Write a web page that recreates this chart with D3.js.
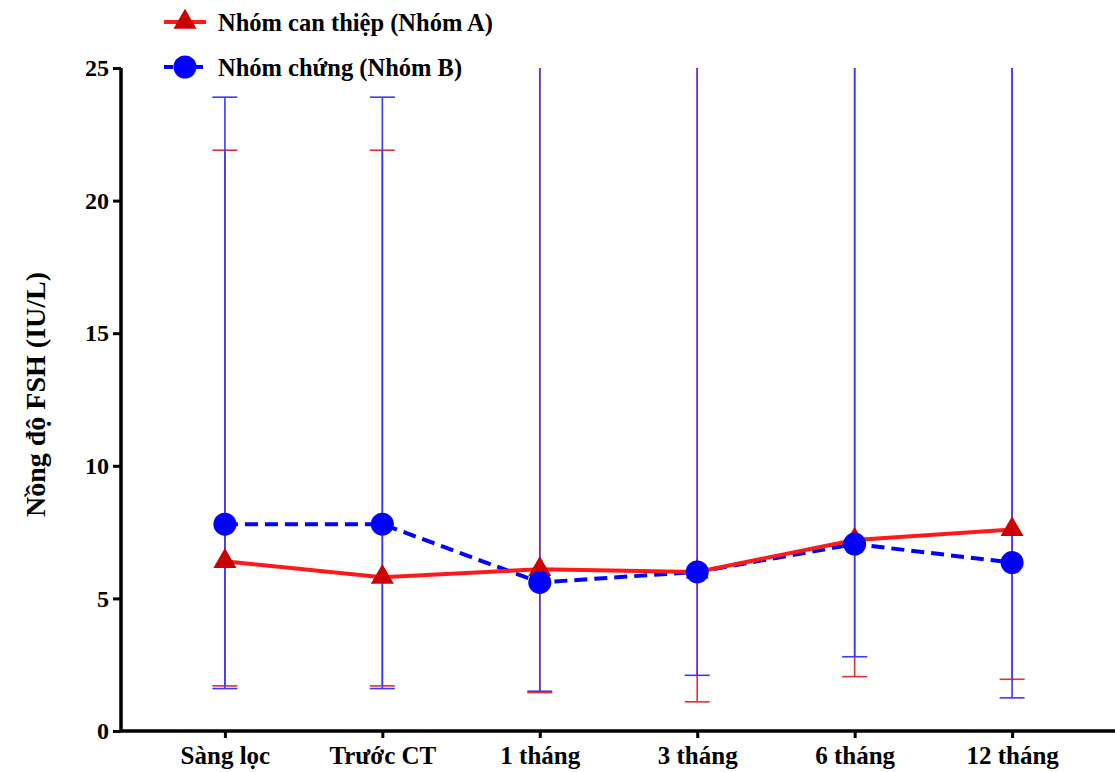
<!DOCTYPE html>
<html>
<head>
<meta charset="utf-8">
<script src="https://cdn.jsdelivr.net/npm/d3@7"></script>
<style>
  html, body { margin: 0; padding: 0; background: #fff; }
  svg text { font-family: "Liberation Serif", "Times New Roman", Tinos, "DejaVu Serif", serif; font-weight: bold; }
</style>
</head>
<body>
<svg id="chart" width="1115" height="772"></svg>
<script>
// Time points
const categories = ["Sàng lọc", "Trước CT", "1 tháng", "3 tháng", "6 tháng", "12 tháng"];

// Group A (intervention): mean FSH and whisker ends
const groupAName = "Nhóm can thiệp (Nhóm A)";
const groupAMean  = [6.4, 5.8, 6.1, 6.0, 7.2, 7.6];
const groupALower = [1.7, 1.7, 1.45, 1.1, 2.05, 1.95];
const groupAUpper = [21.9, 21.9, 30, 30, 30, 30];

// Group B (control)
const groupBName = "Nhóm chứng (Nhóm B)";
const groupBMean  = [7.8, 7.8, 5.6, 6.0, 7.05, 6.35];
const groupBLower = [1.6, 1.6, 1.5, 2.1, 2.8, 1.25];
const groupBUpper = [23.9, 23.9, 30, 30, 30, 30];

const yTicks = [0, 5, 10, 15, 20, 25];
const yTitle = "Nồng độ FSH (IU/L)";

const svg = d3.select("#chart");
const plot = { left: 121, right: 1116, top: 68, bottom: 731 };

const x = d3.scalePoint().domain(categories).range([plot.left, plot.right]).padding(0.66);
const y = d3.scaleLinear().domain([0, 25]).range([plot.bottom, plot.top]);

const redLine = "#ff1a1a", redMark = "#cc0000", redBar = "#e03030";
const blueLine = "#0000ff", blueBar = "#3a3aff";

svg.append("defs").append("clipPath").attr("id", "plotClip")
  .append("rect").attr("x", plot.left).attr("y", plot.top)
  .attr("width", plot.right - plot.left).attr("height", plot.bottom - plot.top);

const series = [
  { name: groupAName, mean: groupAMean, lo: groupALower, hi: groupAUpper, bar: redBar },
  { name: groupBName, mean: groupBMean, lo: groupBLower, hi: groupBUpper, bar: blueBar }
];

// Error bars
const capHalf = 12.5;
const bars = svg.append("g").attr("clip-path", "url(#plotClip)");
series.forEach(s => {
  const g = bars.append("g").attr("stroke", s.bar).attr("stroke-width", 1.6).attr("fill", "none");
  categories.forEach((c, i) => {
    const cx = x(c);
    g.append("line").attr("x1", cx).attr("x2", cx).attr("y1", y(s.lo[i])).attr("y2", y(s.hi[i]));
    g.append("line").attr("x1", cx - capHalf).attr("x2", cx + capHalf).attr("y1", y(s.lo[i])).attr("y2", y(s.lo[i]));
    g.append("line").attr("x1", cx - capHalf).attr("x2", cx + capHalf).attr("y1", y(s.hi[i])).attr("y2", y(s.hi[i]));
  });
});

// Mean lines
const line = d3.line().x((d, i) => x(categories[i])).y(d => y(d));
svg.append("path").datum(groupBMean).attr("d", line)
  .attr("fill", "none").attr("stroke", blueLine).attr("stroke-width", 4)
  .attr("stroke-dasharray", "13,7");
svg.append("path").datum(groupAMean).attr("d", line)
  .attr("fill", "none").attr("stroke", redLine).attr("stroke-width", 4);

// Markers
const tri = d3.symbol().type(d3.symbolTriangle).size(230);
svg.append("g").selectAll("path").data(groupAMean).join("path")
  .attr("d", tri)
  .attr("transform", (d, i) => `translate(${x(categories[i])},${y(d)})`)
  .attr("fill", redMark);
svg.append("g").selectAll("circle").data(groupBMean).join("circle")
  .attr("cx", (d, i) => x(categories[i])).attr("cy", d => y(d))
  .attr("r", 11.5).attr("fill", blueLine);

// Axes
const yAxis = svg.append("g").attr("transform", `translate(${plot.left},0)`)
  .call(d3.axisLeft(y).tickValues(yTicks).tickSize(8).tickPadding(4));
const xAxis = svg.append("g").attr("transform", `translate(0,${plot.bottom})`)
  .call(d3.axisBottom(x).tickSize(7).tickPadding(8));
[yAxis, xAxis].forEach(a => {
  a.attr("font-family", null).attr("font-size", null);
  a.select(".domain").attr("stroke", "#000").attr("stroke-width", 3.5);
  a.selectAll(".tick line").attr("stroke", "#000").attr("stroke-width", 3);
  a.selectAll("text").attr("fill", "#000");
});
yAxis.selectAll("text").style("font-size", "24px");
xAxis.selectAll("text").style("font-size", "25px");
yAxis.select(".domain").attr("d", `M0,${plot.top}V${plot.bottom}`);
xAxis.select(".domain").attr("d", `M${plot.left},0H${plot.right}`);

svg.append("text")
  .attr("transform", `translate(35,${(plot.top + plot.bottom) / 2 - 5}) rotate(-90)`)
  .attr("text-anchor", "middle").attr("dominant-baseline", "central")
  .style("font-size", "28px").text(yTitle);

// Legend
const legend = svg.append("g");
const legendRows = [
  { name: groupAName, y: 22, color: redLine, dash: null, marker: "tri" },
  { name: groupBName, y: 67, color: blueLine, dash: "9,6", marker: "circle" }
];
legendRows.forEach(r => {
  const g = legend.append("g").attr("transform", `translate(185,${r.y})`);
  g.append("line").attr("x1", -21).attr("x2", 21).attr("stroke", r.color)
    .attr("stroke-width", 4).attr("stroke-dasharray", r.dash);
  if (r.marker === "tri") g.append("path").attr("d", tri).attr("fill", redMark);
  else g.append("circle").attr("r", 11.5).attr("fill", blueLine);
  g.append("text").attr("x", 33).attr("dominant-baseline", "central")
    .style("font-size", "24.5px").text(r.name);
});
</script>
</body>
</html>
